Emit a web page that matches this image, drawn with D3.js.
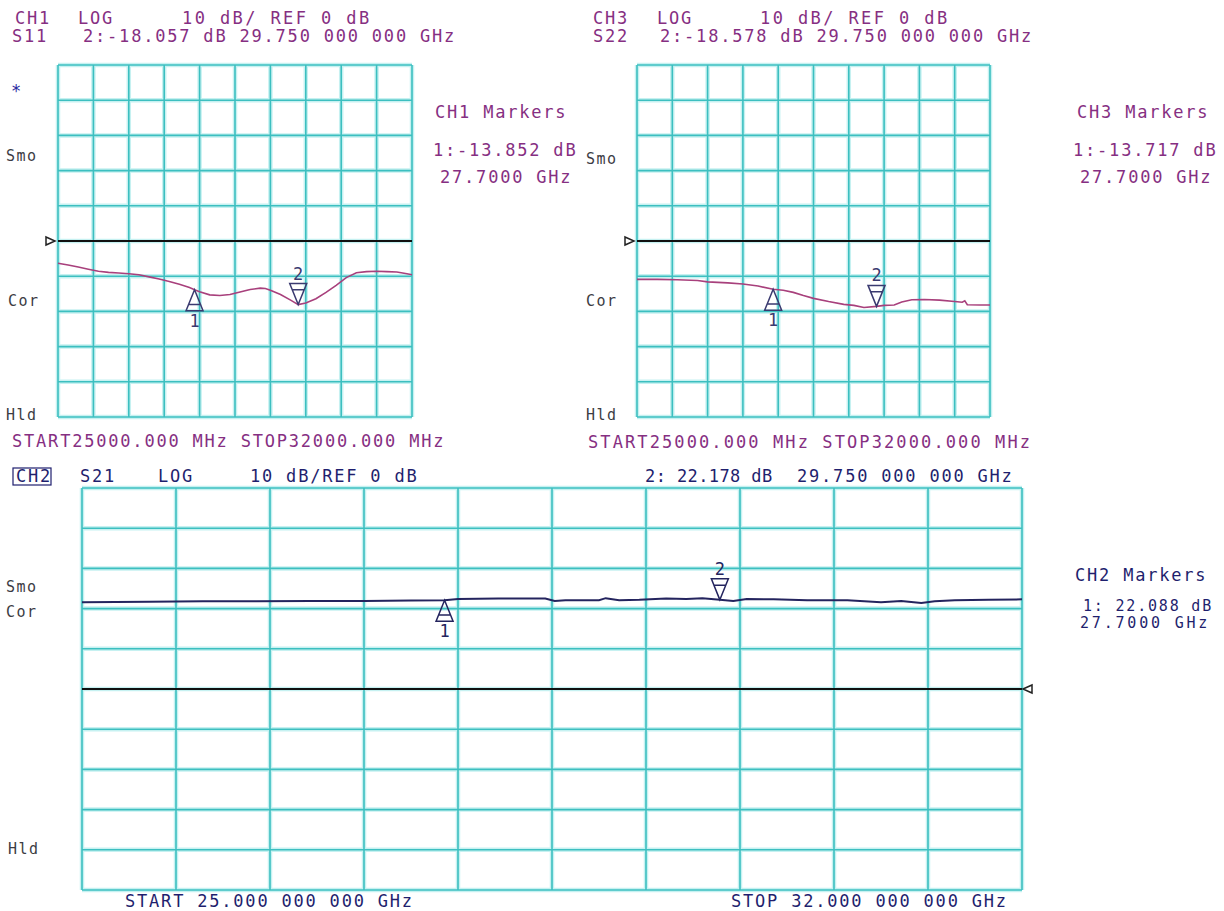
<!DOCTYPE html>
<html>
<head>
<meta charset="utf-8">
<script src="https://cdnjs.cloudflare.com/ajax/libs/d3/7.8.5/d3.min.js"></script>
<style>
  body { margin: 0; background: #fff; }
  svg text { font-family: "DejaVu Sans Mono", monospace; font-size: 17px; letter-spacing: 1.8px; white-space: pre; }
</style>
</head>
<body>
<div id="screen"></div>
<script>
// sweep: 25 - 32 GHz on every channel
var sweepGHz = [25, 32];

// CH1 S11 trace (GHz / dB)
var freqS11 = [25.0,25.2,25.4,25.6,25.8,26.0,26.2,26.4,26.6,26.8,27.0,27.2,27.4,27.6,27.7,27.8,28.0,28.2,28.4,28.6,28.8,29.0,29.1,29.2,29.4,29.6,29.75,29.9,30.1,30.3,30.5,30.7,30.9,31.1,31.3,31.5,31.7,31.9,32.0];
var dbS11 = [-6.3,-6.8,-7.4,-8.0,-8.6,-8.9,-9.1,-9.3,-9.6,-10.2,-10.8,-11.5,-12.3,-13.2,-13.85,-14.4,-15.3,-15.5,-15.2,-14.5,-13.8,-13.4,-13.5,-14.0,-15.2,-16.8,-18.06,-17.6,-16.4,-14.6,-12.6,-10.4,-9.0,-8.7,-8.6,-8.7,-8.8,-9.3,-9.6];

// CH3 S22 trace
var freqS22 = [25.0,25.4,25.8,26.2,26.4,26.8,27.1,27.4,27.7,27.9,28.1,28.3,28.5,28.8,29.1,29.3,29.5,29.75,29.9,30.1,30.25,30.45,30.7,31.0,31.3,31.45,31.5,31.55,31.8,32.0];
var dbS22 = [-10.9,-10.9,-11.0,-11.2,-11.6,-11.9,-12.2,-12.8,-13.72,-14.0,-14.6,-15.5,-16.3,-17.2,-18.0,-18.3,-18.9,-18.58,-18.3,-18.2,-17.3,-16.7,-16.6,-16.8,-17.2,-17.4,-17.0,-18.1,-18.2,-18.2];

// CH2 S21 trace
var freqS21 = [25.0,25.5,25.9,26.3,26.7,27.1,27.45,27.7,27.8,28.1,28.45,28.52,28.6,28.85,28.9,29.0,29.15,29.35,29.5,29.62,29.75,29.85,29.95,30.15,30.4,30.7,30.95,31.1,31.25,31.35,31.5,31.75,32.0];
var dbS21 = [21.6,21.7,21.8,21.8,21.9,21.9,22.0,22.09,22.4,22.5,22.5,21.9,22.1,22.1,22.6,22.1,22.2,22.5,22.4,22.6,22.18,21.9,22.4,22.3,22.1,22.1,21.6,21.9,21.4,21.8,22.1,22.2,22.3];

// markers 1 and 2
var markerFreq = [27.7, 29.75];
var markerS11 = [-13.852, -18.057];
var markerS22 = [-13.717, -18.578];
var markerS21 = [22.088, 22.178];

// screen annotations
var head1 = ["CH1", "LOG", "10 dB/ REF 0 dB", "S11", "2:-18.057 dB 29.750 000 000 GHz"];
var head3 = ["CH3", "LOG", "10 dB/ REF 0 dB", "S22", "2:-18.578 dB 29.750 000 000 GHz"];
var head2 = ["CH2", "S21", "LOG", "10 dB/REF 0 dB", "2: 22.178 dB", "29.750 000 000 GHz"];
var mk1 = ["CH1 Markers", "1:-13.852 dB", "27.7000 GHz"];
var mk3 = ["CH3 Markers", "1:-13.717 dB", "27.7000 GHz"];
var mk2 = ["CH2 Markers", "1: 22.088 dB", "27.7000 GHz"];
var sideLabels = ["Smo", "Cor", "Hld"];
var sweepMHz = "START25000.000 MHz STOP32000.000 MHz";
var sweepCH2 = ["START 25.000 000 000 GHz", "STOP 32.000 000 000 GHz"];

var purple = "#862f82", navy = "#1f1f6e", gray = "#3c3c44";
var gridCol = "#3cbfc0", glowCol = "#c6f1f1";

var svg = d3.select("#screen").append("svg")
  .attr("width", 1224)
  .attr("height", 911);

function label(s, x, y, col, size, spacing) {
  var t = svg.append("text")
    .attr("x", x).attr("y", y)
    .attr("fill", col)
    .text(s);
  if (size) t.style("font-size", size + "px");
  if (spacing != null) t.style("letter-spacing", spacing + "px");
  return t;
}

function panel(p) {
  var x = d3.scaleLinear().domain(sweepGHz).range([p.left, p.right]);
  var y = d3.scaleLinear().domain([-50, 50]).range([p.bottom, p.top]);
  var colDiv = d3.scaleLinear().domain([0, 10]).range([p.left, p.right]);
  var rowDiv = d3.scaleLinear().domain([0, 10]).range([p.bottom, p.top]);
  var divs = d3.range(11);
  var g = svg.append("g");

  // graticule: soft glow first, then the line
  [[glowCol, 4.5], [gridCol, 1.6]].forEach(function(s) {
    g.selectAll(null).data(divs).enter().append("line")
      .attr("x1", d => colDiv(d)).attr("x2", d => colDiv(d))
      .attr("y1", p.top).attr("y2", p.bottom)
      .attr("stroke", s[0]).attr("stroke-width", s[1]);
    g.selectAll(null).data(divs).enter().append("line")
      .attr("y1", d => rowDiv(d)).attr("y2", d => rowDiv(d))
      .attr("x1", p.left).attr("x2", p.right)
      .attr("stroke", s[0]).attr("stroke-width", s[1]);
  });

  // reference line at 0 dB
  var ry = y(0);
  g.append("line")
    .attr("x1", p.left).attr("x2", p.right)
    .attr("y1", ry).attr("y2", ry)
    .attr("stroke", "#111").attr("stroke-width", 2);
  if (p.refRight) {
    g.append("path")
      .attr("d", `M${p.right + 1},${ry} L${p.right + 10},${ry - 4} L${p.right + 10},${ry + 4} Z`)
      .attr("fill", "#fff").attr("stroke", "#222").attr("stroke-width", 1.5);
  } else {
    g.append("path")
      .attr("d", `M${p.left - 12},${ry - 4} L${p.left - 3},${ry} L${p.left - 12},${ry + 4} Z`)
      .attr("fill", "#fff").attr("stroke", "#222").attr("stroke-width", 1.5);
  }

  // trace
  var line = d3.line().x(d => x(d[0])).y(d => y(d[1]));
  g.append("path")
    .datum(d3.zip(p.freq, p.vals))
    .attr("d", line)
    .attr("fill", "none")
    .attr("stroke", p.traceCol)
    .attr("stroke-width", p.traceW);

  // markers: 1 sits under the trace pointing up, 2 above pointing down
  p.mark.forEach(function(v, i) {
    var mx = x(markerFreq[i]), my = y(v);
    var dir = i === 0 ? 1 : -1;
    var h = 21 * dir;
    g.append("path")
      .attr("d", `M${mx},${my} L${mx - 8.5},${my + h} L${mx + 8.5},${my + h} Z M${mx - 6},${my + h * 0.7} L${mx + 6},${my + h * 0.7}`)
      .attr("fill", "none").attr("stroke", p.markCol).attr("stroke-width", 1.5);
    g.append("text")
      .attr("x", mx).attr("y", i === 0 ? my + 37 : my - 25)
      .attr("text-anchor", "middle")
      .attr("fill", p.markCol)
      .style("letter-spacing", "0px")
      .text(String(i + 1));
  });
}

// CH1 S11
panel({ left: 58, right: 412, top: 65, bottom: 417,
  freq: freqS11, vals: dbS11, mark: markerS11,
  traceCol: "#a8407c", traceW: 1.6, markCol: "#3a3a70" });
// CH3 S22
panel({ left: 637, right: 990, top: 65, bottom: 417,
  freq: freqS22, vals: dbS22, mark: markerS22,
  traceCol: "#a8407c", traceW: 1.6, markCol: "#3a3a70" });
// CH2 S21
panel({ left: 82, right: 1022, top: 488, bottom: 890,
  freq: freqS21, vals: dbS21, mark: markerS21, refRight: true,
  traceCol: "#24245e", traceW: 2, markCol: "#24245e" });

// CH1 texts
label(head1[0], 15, 24, purple);
label(head1[1], 78, 24, purple);
label(head1[2], 182, 24, purple, null, 2.4);
label(head1[3], 12, 42, purple);
label(head1[4], 83, 42, purple);
label("*", 11, 97, "#2a2aa0");
label(mk1[0], 435, 118, purple);
label(mk1[1], 433, 156, purple);
label(mk1[2], 440, 183, purple);
label(sideLabels[0], 6, 161, gray, 15, 1.5);
label(sideLabels[1], 8, 306, gray, 15, 1.5);
label(sideLabels[2], 6, 420, gray, 15, 1.5);
label(sweepMHz, 12, 447, purple);

// CH3 texts
label(head3[0], 593, 24, purple);
label(head3[1], 657, 24, purple);
label(head3[2], 760, 24, purple, null, 2.4);
label(head3[3], 593, 42, purple);
label(head3[4], 660, 42, purple);
label(mk3[0], 1077, 118, purple);
label(mk3[1], 1073, 156, purple);
label(mk3[2], 1080, 183, purple);
label(sideLabels[0], 586, 164, gray, 15, 1.5);
label(sideLabels[1], 586, 306, gray, 15, 1.5);
label(sideLabels[2], 586, 420, gray, 15, 1.5);
label(sweepMHz, 588, 448, purple, null, 2.1);

// CH2 texts
svg.append("rect").attr("x", 13).attr("y", 468).attr("width", 38).attr("height", 17)
  .attr("fill", "none").attr("stroke", navy).attr("stroke-width", 1.2);
label(head2[0], 16, 482, navy);
label(head2[1], 80, 482, navy);
label(head2[2], 158, 482, navy);
label(head2[3], 250, 482, navy);
label(head2[4], 645, 482, navy, null, 0.4);
label(head2[5], 797, 482, navy);
label(mk2[0], 1075, 581, navy);
label(mk2[1], 1083, 611, navy, 15, 1.8);
label(mk2[2], 1080, 628, navy, 15, 2.8);
label(sideLabels[0], 6, 592, gray, 15, 1.5);
label(sideLabels[1], 6, 617, gray, 15, 1.5);
label(sideLabels[2], 8, 854, gray, 15, 1.5);
label(sweepCH2[0], 125, 907, navy);
label(sweepCH2[1], 731, 907, navy);
</script>
</body>
</html>
